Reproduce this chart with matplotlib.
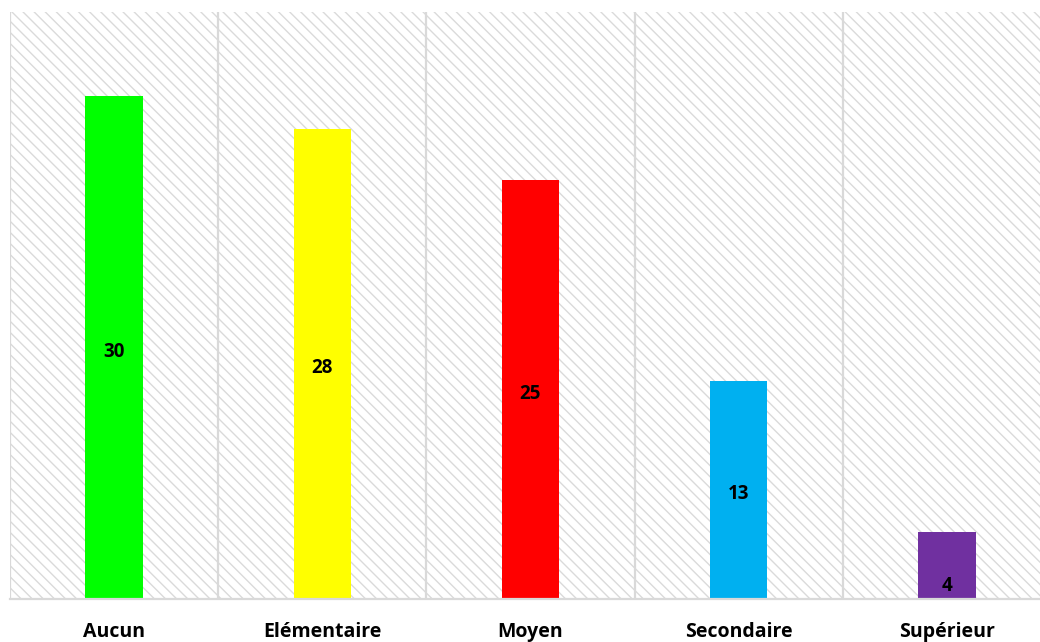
import matplotlib.pyplot as plt
from matplotlib.patches import Rectangle

# niveau d'instruction
categories = ["Aucun", "Elémentaire", "Moyen", "Secondaire", "Supérieur"]
values = [30, 28, 25, 13, 4]
colors = ["#00ff00", "#ffff00", "#ff0000", "#00b0f0", "#7030a0"]

plt.rcParams['font.family'] = ['Open Sans', 'DejaVu Sans']
plt.rcParams['hatch.linewidth'] = 1.0

fig = plt.figure(figsize=(10.4, 6.42), dpi=100)
ax = fig.add_axes([10/1040, 43/642, 1041/1040, 587/642])

# fond hachuré
ax.add_patch(Rectangle((0, 0), 1, 1, transform=ax.transAxes, facecolor='white',
                       edgecolor='#dadada', linewidth=0, hatch='\\\\\\', zorder=0))

x = range(len(categories))
bars = ax.bar(x, values, width=0.275, color=colors, zorder=3)

# séparateurs verticaux entre catégories
for b in [i - 0.5 for i in range(len(categories) + 1)]:
    ax.axvline(b, color='#d9d9d9', lw=1.6, zorder=1)

# étiquettes de valeur au milieu des barres
for i, v in enumerate(values):
    y = v / 2 if v > 8 else 1.0
    ax.annotate(str(v), (i, y), xytext=(0, -3), textcoords='offset points',
                ha='center', va='center', fontsize=13.5,
                fontweight='bold', color='black', zorder=4)

ax.set_xlim(-0.5, 4.5)
ax.set_ylim(0, 35)
ax.set_xticks(list(x))
ax.set_xticklabels(categories, fontsize=14, fontweight='bold')
ax.tick_params(axis='x', length=0, pad=16.5)
ax.set_yticks([])
for s in ['top', 'right', 'left']:
    ax.spines[s].set_visible(False)
ax.spines['bottom'].set_color('#d9d9d9')
ax.spines['bottom'].set_linewidth(1.6)
ax.spines['bottom'].set_zorder(5)

fig.savefig("out.png", dpi=100)
